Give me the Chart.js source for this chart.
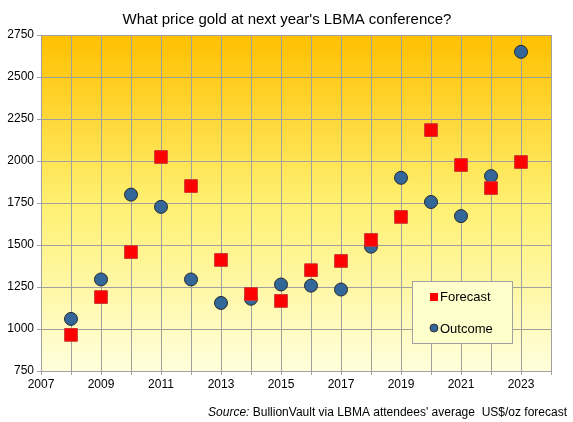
<!DOCTYPE html>
<html>
<head>
<meta charset="utf-8">
<script src="https://cdn.jsdelivr.net/npm/chart.js@4/dist/chart.umd.min.js"></script>
<style>
  html, body { margin: 0; padding: 0; background: #fff; }
  #wrap { width: 573px; height: 422px; }
</style>
</head>
<body>
<div id="wrap"><canvas id="c" width="573" height="422"></canvas></div>
<script>
const years = [2008, 2009, 2010, 2011, 2012, 2013, 2014, 2015, 2016, 2017, 2018, 2019, 2020, 2021, 2022, 2023];
const forecast = [965, 1190, 1458, 2024, 1851, 1411, 1208, 1167, 1350, 1405, 1530, 1667, 2184, 1976, 1839, 1994];
const outcome = [1060, 1295, 1800, 1727, 1295, 1155, 1180, 1265, 1258, 1235, 1490, 1900, 1756, 1672, 1910, 2650];
const xLabels = [2007, 2009, 2011, 2013, 2015, 2017, 2019, 2021, 2023];
const yTicks = [750, 1000, 1250, 1500, 1750, 2000, 2250, 2500, 2750];

const FONT = 'Arial, "Liberation Sans", sans-serif';

const bgPlugin = {
  id: 'bg',
  beforeDraw(chart) {
    const { ctx, chartArea: a } = chart;
    const g = ctx.createLinearGradient(0, a.top, 0, a.bottom);
    g.addColorStop(0, '#ffc000');
    g.addColorStop(0.5, '#fff070');
    g.addColorStop(1, '#ffffdc');
    ctx.save();
    ctx.fillStyle = g;
    ctx.fillRect(a.left, a.top, a.right - a.left, a.bottom - a.top);
    ctx.restore();
  },
  afterDraw(chart) {
    const ctx = chart.ctx;
    ctx.save();
    // title
    ctx.fillStyle = '#000';
    ctx.font = '15px ' + FONT;
    ctx.textAlign = 'center';
    ctx.textBaseline = 'alphabetic';
    ctx.fillText("What price gold at next year's LBMA conference?", 287, 24);
    // source line
    ctx.font = '12px ' + FONT;
    const rest = " BullionVault via LBMA attendees' average  US$/oz forecast";
    const rw = ctx.measureText(rest).width;
    ctx.textAlign = 'right';
    ctx.fillText(rest, 567, 416);
    ctx.font = 'italic 12px ' + FONT;
    ctx.fillText('Source:', 567 - rw, 416);
    // legend box
    ctx.fillStyle = '#ffffcc';
    ctx.strokeStyle = '#a0a0a0';
    ctx.lineWidth = 1;
    ctx.fillRect(412, 281, 100, 62);
    ctx.strokeRect(412.5, 281.5, 100, 62);
    ctx.fillStyle = '#ff0000';
    ctx.fillRect(430, 293, 8, 8);
    ctx.fillStyle = '#336699';
    ctx.strokeStyle = '#333333';
    ctx.beginPath();
    ctx.arc(434, 328, 4, 0, Math.PI * 2);
    ctx.fill();
    ctx.stroke();
    ctx.fillStyle = '#000';
    ctx.font = '13px ' + FONT;
    ctx.textAlign = 'left';
    ctx.fillText('Forecast', 440, 301);
    ctx.fillText('Outcome', 440, 333);
    ctx.restore();
  }
};

new Chart(document.getElementById('c'), {
  type: 'scatter',
  data: {
    datasets: [
      {
        label: 'Forecast',
        data: years.map((y, i) => ({ x: y, y: forecast[i] })),
        pointStyle: 'rect',
        pointRadius: 9,
        backgroundColor: '#ff0000',
        borderColor: '#cc3333',
        borderWidth: 1
      },
      {
        label: 'Outcome',
        data: years.map((y, i) => ({ x: y, y: outcome[i] })),
        pointStyle: 'circle',
        pointRadius: 6.5,
        backgroundColor: '#336699',
        borderColor: '#2a2a2a',
        borderWidth: 1
      }
    ]
  },
  options: {
    responsive: false,
    animation: false,
    layout: { padding: { top: 35, right: 22, bottom: 27, left: 0 } },
    plugins: { legend: { display: false }, title: { display: false }, tooltip: { enabled: false } },
    scales: {
      x: {
        type: 'linear',
        min: 2007,
        max: 2024,
        afterFit(s) { s.height = 24; },
        ticks: {
          stepSize: 1,
          autoSkip: false,
          maxRotation: 0,
          color: '#000',
          font: { family: FONT, size: 12 },
          padding: 2,
          callback: v => xLabels.includes(v) ? String(v) : ''
        },
        grid: { color: '#a0a0a0', tickLength: 4, lineWidth: 1 },
        border: { color: '#a0a0a0' }
      },
      y: {
        min: 750,
        max: 2750,
        afterFit(s) { s.width = 41; },
        afterBuildTicks(s) { s.ticks = yTicks.map(v => ({ value: v })); },
        ticks: {
          color: '#000',
          font: { family: FONT, size: 12 },
          padding: 3,
          callback: v => String(v)
        },
        grid: { color: '#a0a0a0', tickLength: 4, lineWidth: 1 },
        border: { color: '#a0a0a0' }
      }
    }
  },
  plugins: [bgPlugin]
});
</script>
</body>
</html>
